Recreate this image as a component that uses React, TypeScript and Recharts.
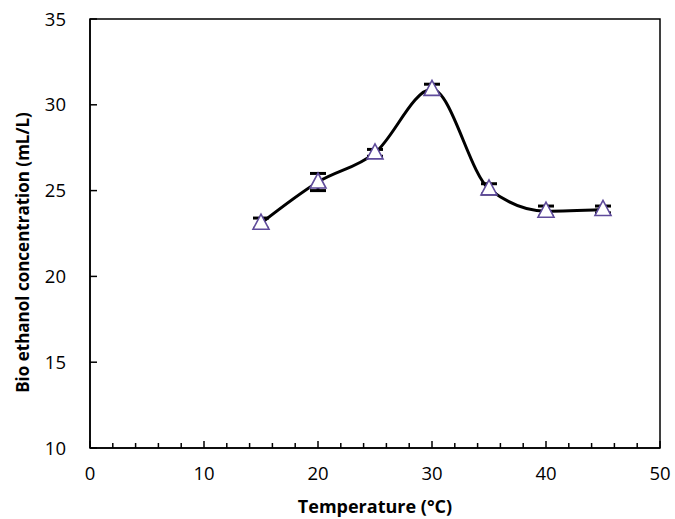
import { LineChart, Line, XAxis, YAxis, ErrorBar, ReferenceArea, Label } from "recharts";

const temperatures = [15, 20, 25, 30, 35, 40, 45];
const concentration = [23.1, 25.5, 27.2, 30.9, 25.1, 23.8, 23.9];
const errors = [0.3, 0.5, 0.2, 0.3, 0.3, 0.3, 0.2];

const xTicks = [0, 2, 4, 6, 8, 10, 12, 14, 16, 18, 20, 22, 24, 26, 28, 30, 32, 34, 36, 38, 40, 42, 44, 46, 48, 50];
const yTicks = [10, 15, 20, 25, 30, 35];

const data = temperatures.map((t, i) => ({ t, c: concentration[i], err: errors[i] }));

const FONT = "'Open Sans', sans-serif";

function Triangle(props: any) {
  const { cx, cy } = props;
  if (cx == null || cy == null) return null;
  const pts = `${cx},${cy - 9} ${cx - 8},${cy + 6} ${cx + 8},${cy + 6}`;
  return <polygon points={pts} fill="#fff" stroke="#5f4b9b" strokeWidth={1.6} />;
}

function XTick(props: any) {
  const { x, y, payload } = props;
  const v = payload.value;
  const major = v % 10 === 0;
  const axisY = 448;
  return (
    <g>
      <line x1={x} x2={x} y1={axisY} y2={axisY - (major ? 7 : 5)} stroke="#000" strokeWidth={1.5} />
      {major && (
        <text x={x} y={y} textAnchor="middle" dy={24} fontSize={18.5} fill="#000" fontFamily={FONT}>
          {v}
        </text>
      )}
    </g>
  );
}

export default function App() {
  return (
    <div style={{ position: "absolute", left: 0, top: 0, width: 675, height: 519, background: "#fff" }}>
      <LineChart width={675} height={519} data={data} margin={{ top: 19, right: 15, bottom: 0, left: 30 }}>
        <XAxis
          dataKey="t"
          type="number"
          domain={[0, 50]}
          ticks={xTicks}
          interval={0}
          tickLine={false}
          tick={<XTick />}
          axisLine={{ stroke: "#000", strokeWidth: 1.5 }}
          height={71}
        >
          <Label value="Temperature (°C)" position="insideBottom" offset={6} style={{ fontFamily: FONT, fontSize: 18, fontWeight: 700, fill: "#000" }} />
        </XAxis>
        <YAxis
          type="number"
          domain={[10, 35]}
          ticks={yTicks}
          interval={0}
          width={60}
          tickSize={-7}
          tickMargin={31}
          tickLine={{ stroke: "#000", strokeWidth: 1.5 }}
          axisLine={{ stroke: "#000", strokeWidth: 1.5 }}
          tick={{ fontSize: 18.5, fill: "#000", fontFamily: FONT }}
        >
          <Label
            value="Bio ethanol concentration (mL/L)"
            angle={-90}
            position="center"
            dx={-37}
            dy={19}
            style={{ fontFamily: FONT, fontSize: 17, fontWeight: 700, fill: "#000", textAnchor: "middle" }}
          />
        </YAxis>
        <ReferenceArea x1={0} x2={50} y1={10} y2={35} fill="none" fillOpacity={0} stroke="#000" strokeWidth={1.5} ifOverflow="visible" />
        <Line
          type="monotone"
          dataKey="c"
          stroke="#000"
          strokeWidth={3}
          dot={<Triangle />}
          activeDot={false}
          isAnimationActive={false}
        >
          <ErrorBar dataKey="err" width={8} stroke="#000" strokeWidth={3} direction="y" />
        </Line>
      </LineChart>
    </div>
  );
}
